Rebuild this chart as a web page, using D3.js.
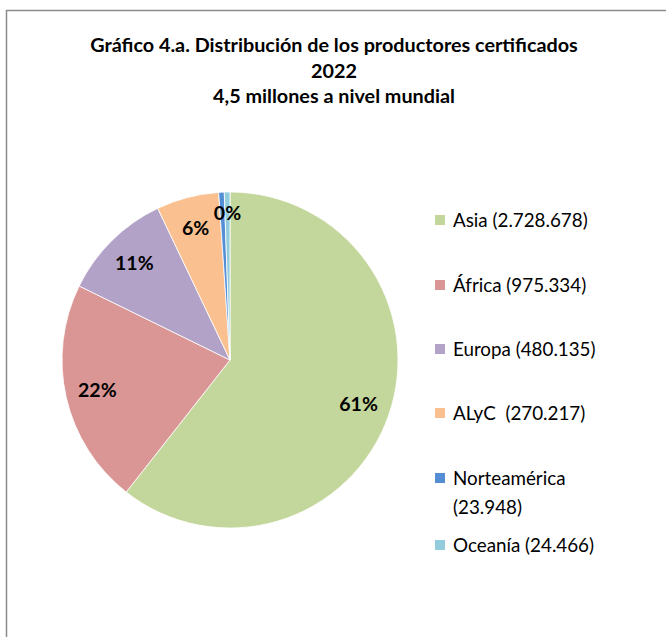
<!DOCTYPE html>
<html>
<head>
<meta charset="utf-8">
<script src="https://cdn.jsdelivr.net/npm/d3@7"></script>
<style>
  body { margin: 0; background: #fff; }
  svg { display: block; }
</style>
</head>
<body>
<svg></svg>
<script>
// data

const regions = ['Asia', 'África', 'Europa', 'ALyC ', 'Norteamérica', 'Oceanía'];
const producers = [2728678, 975334, 480135, 270217, 23948, 24466];
const pctLabels = ['61%', '22%', '11%', '6%', '0%', '0%'];
const colors = ['#C3D69B', '#D99694', '#B3A2C7', '#FAC090', '#558ED5', '#93CDDD'];
const titleLines = [
  'Gráfico 4.a. Distribución de los productores certificados',
  '2022',
  '4,5 millones a nivel mundial'
];

const width = 666, height = 637;
const font = "Lato, 'Open Sans', sans-serif";

const svg = d3.select('svg')
  .attr('width', width)
  .attr('height', height);

// chart frame (runs off the right and bottom edge)
svg.append('rect')
  .attr('x', 6.5)
  .attr('y', 10.5)
  .attr('width', 700)
  .attr('height', 700)
  .style('fill', '#fff')
  .style('stroke', '#8c8c8c')
  .style('stroke-width', 1.5);


// title

svg.append('g')
  .selectAll('text')
  .data(titleLines)
  .enter()
    .append('text')
    .attr('x', 334)
    .attr('y', (d, i) => 52 + i * 25.5)
    .attr('text-anchor', 'middle')
    .style('font-family', font)
    .style('font-size', '19.8px')
    .style('font-weight', 'bold')
    .style('fill', '#000')
    .text(d => d);


// pie

const radius = 168;
const slices = regions.map((r, i) => ({ region: r, value: producers[i], label: pctLabels[i], color: colors[i] }));

const pie = d3.pie()
  .value(d => d.value)
  .sort(null);

const arc = d3.arc()
  .innerRadius(0)
  .outerRadius(radius);

const labelArc = d3.arc()
  .innerRadius(radius * 0.81)
  .outerRadius(radius * 0.81);

const pieG = svg.append('g')
  .attr('transform', 'translate(230,360)');

const arcs = pie(slices);

pieG.selectAll('path')
  .data(arcs)
  .enter()
    .append('path')
    .attr('d', arc)
    .style('fill', d => d.data.color)
    .style('stroke', '#fff')
    .style('stroke-width', 0.8);

// percentage labels; the two tiny slices share one label spot, keep the last
const labels = arcs.filter((d, i) => !(d.data.label === '0%' && i !== arcs.length - 1));

pieG.selectAll('text')
  .data(labels)
  .enter()
    .append('text')
    .attr('transform', d => {
      const c = labelArc.centroid(d);
      const k = d.data.label === '0%' ? 1.08 : 1;
      return `translate(${c[0] * k},${c[1] * k})`;
    })
    .attr('dy', '0.35em')
    .attr('text-anchor', 'middle')
    .style('font-family', font)
    .style('font-size', '19.5px')
    .style('font-weight', 'bold')
    .style('fill', '#000')
    .text(d => d.data.label);


// legend

const legendRows = [
  ['Asia (2.728.678)'],
  ['África (975.334)'],
  ['Europa (480.135)'],
  ['ALyC  (270.217)'],
  ['Norteamérica', '(23.948)'],
  ['Oceanía (24.466)']
];
const legendY = [220, 285, 349, 413, 478, 545];

const legendG = svg.append('g')
  .attr('transform', 'translate(435,0)');

legendG.selectAll('g')
  .data(slices)
  .enter()
    .append('g')
    .each(function(d, i) {
      const g = d3.select(this);

      g.append('rect')
        .attr('x', 0)
        .attr('y', legendY[i] - 5)
        .attr('width', 10)
        .attr('height', 10)
        .style('fill', d.color);

      const t = g.append('text')
        .attr('y', legendY[i])
        .style('font-family', font)
        .style('font-size', '18.8px')
        .style('fill', '#000')
        .style('white-space', 'pre');

      legendRows[i].forEach((line, j) => {
        t.append('tspan')
          .attr('x', 18)
          .attr('dy', j === 0 ? '0.35em' : '1.55em')
          .text(line);
      });
    });
</script>
</body>
</html>
